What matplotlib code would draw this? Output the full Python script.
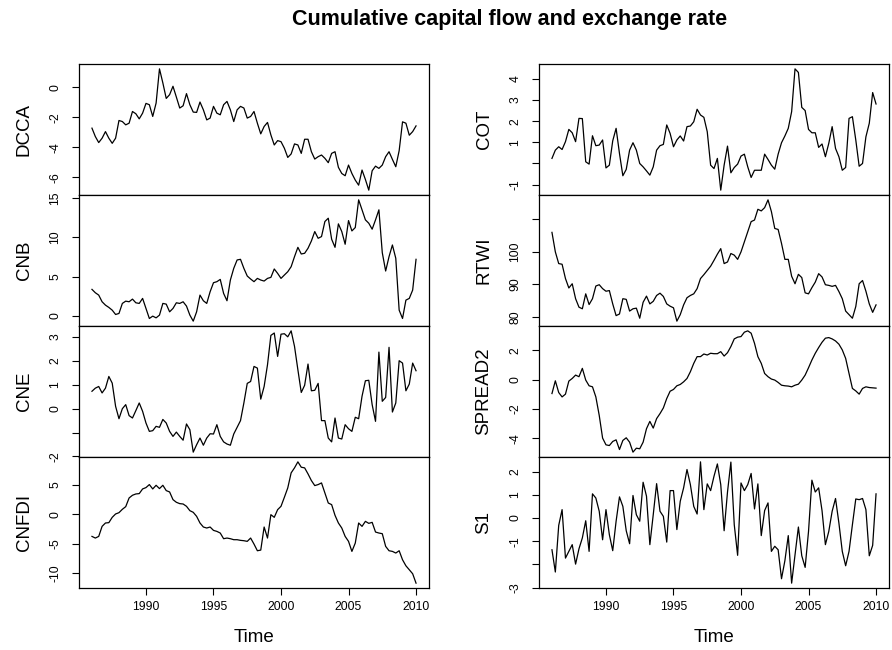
import matplotlib.pyplot as plt
import numpy as np

plt.rcParams['font.family'] = ['Liberation Sans', 'DejaVu Sans']

# quarterly series, 1986 Q1 .. 2010 Q1
start_year = 1986.0
freq = 4

dcca = [-2.72, -3.28, -3.68, -3.39, -2.95, -3.39, -3.73, -3.39, -2.21, -2.28,
        -2.50, -2.39, -1.61, -1.76, -2.10, -1.72, -1.07, -1.16, -1.94, -1.05,
        1.23, 0.29, -0.74, -0.49, 0.07, -0.65, -1.38, -1.23, -0.42, -1.16,
        -1.65, -1.67, -0.98, -1.50, -2.17, -2.05, -1.27, -1.72, -1.83, -1.16,
        -0.94, -1.50, -2.28, -1.50, -1.27, -1.38, -2.05, -1.94, -1.61, -2.39,
        -3.10, -2.61, -2.34, -3.17, -3.84, -3.55, -3.62, -4.06, -4.67, -4.44,
        -3.77, -3.84, -4.40, -3.46, -3.46, -4.29, -4.78, -4.62, -4.51, -4.73,
        -5.02, -4.40, -4.29, -5.33, -5.74, -5.89, -5.18, -5.74, -6.18, -6.52,
        -5.51, -6.14, -6.85, -5.56, -5.25, -5.40, -5.18, -4.62, -4.29, -4.80,
        -5.29, -4.22, -2.30, -2.39, -3.19, -2.95, -2.57]

cnb = [3.37, 2.94, 2.64, 1.79, 1.36, 1.07, 0.72, 0.17, 0.30, 1.58,
       1.87, 1.79, 2.13, 1.66, 1.58, 2.22, 0.94, -0.34, -0.04, -0.26,
       0.09, 1.58, 1.49, 0.51, 0.94, 1.66, 1.58, 1.79, 1.24, 0.09,
       -0.68, 0.51, 2.64, 1.92, 1.58, 3.07, 4.22, 4.35, 4.64, 2.85,
       1.92, 4.56, 6.05, 7.12, 7.20, 6.05, 5.07, 4.69, 4.35, 4.77,
       4.56, 4.43, 4.77, 4.90, 5.97, 5.41, 4.77, 5.20, 5.62, 6.26,
       7.54, 8.73, 7.88, 7.97, 8.61, 9.54, 10.74, 9.88, 10.10, 12.02,
       12.44, 9.76, 8.73, 11.72, 10.74, 9.12, 12.14, 10.82, 11.25, 14.78,
       13.51, 12.23, 11.80, 11.04, 12.23, 13.51, 8.05, 5.71, 7.54, 9.03,
       7.33, 0.72, -0.34, 2.00, 2.22, 3.28, 7.20]

cne = [0.73, 0.86, 0.93, 0.66, 0.86, 1.35, 1.07, 0.10, -0.42, 0.00,
       0.17, -0.29, -0.39, -0.08, 0.24, -0.11, -0.60, -0.95, -0.92, -0.74,
       -0.78, -0.45, -0.60, -0.95, -1.16, -0.98, -1.16, -1.32, -0.64, -0.88,
       -1.82, -1.51, -1.23, -1.53, -1.23, -1.05, -1.06, -0.67, -1.16, -1.39,
       -1.48, -1.53, -1.06, -0.78, -0.50, 0.24, 1.06, 1.14, 1.77, 1.70,
       0.40, 0.93, 1.84, 3.07, 3.17, 2.19, 3.12, 3.14, 3.01, 3.26,
       2.61, 1.63, 0.68, 0.98, 1.87, 0.75, 0.77, 1.06, -0.50, -0.50,
       -1.23, -1.39, -0.39, -1.23, -1.27, -0.67, -0.84, -0.95, -0.36, -0.42,
       0.52, 1.17, 1.19, 0.17, -0.53, 2.37, 0.31, 0.47, 2.57, -0.14,
       0.24, 2.01, 1.91, 0.75, 1.03, 1.91, 1.59]

cnfdi = [-3.74, -4.02, -3.74, -2.04, -1.47, -1.41, -0.51, 0.06, 0.28, 0.85,
         1.30, 2.77, 3.23, 3.45, 3.51, 4.30, 4.53, 5.04, 4.30, 4.92,
         4.36, 4.92, 4.02, 3.79, 2.49, 2.04, 1.81, 1.75, 1.36, 0.62,
         0.34, -0.34, -1.47, -2.15, -2.32, -2.15, -2.72, -2.89, -3.17, -4.13,
         -4.02, -4.13, -4.30, -4.30, -4.41, -4.47, -4.58, -4.02, -5.04, -6.17,
         -6.06, -2.15, -4.02, -0.06, -0.51, 0.79, 1.36, 2.89, 4.47, 7.02,
         7.87, 8.89, 7.98, 7.87, 6.85, 5.72, 4.87, 5.04, 5.32, 3.62,
         1.92, 1.64, -0.17, -1.47, -2.32, -3.74, -4.58, -6.28, -4.87, -1.47,
         -2.04, -1.19, -1.53, -1.36, -3.00, -3.17, -3.28, -5.43, -6.17, -6.28,
         -6.56, -6.17, -7.70, -8.72, -9.39, -10.07, -11.66]

cot = [0.24, 0.63, 0.79, 0.66, 1.03, 1.61, 1.45, 1.03, 2.13, 2.12,
       0.08, -0.03, 1.31, 0.84, 0.87, 1.11, -0.21, -0.08, 1.07, 1.66,
       0.47, -0.58, -0.28, 0.63, 0.98, 0.63, 0.00, -0.16, -0.35, -0.55,
       -0.16, 0.63, 0.84, 0.90, 1.82, 1.42, 0.79, 1.11, 1.30, 1.06,
       1.74, 1.77, 1.97, 2.56, 2.29, 2.18, 1.50, -0.08, -0.24, 0.24,
       -1.26, -0.08, 0.82, -0.44, -0.19, -0.03, 0.35, 0.44, -0.16, -0.66,
       -0.32, -0.32, -0.32, 0.44, 0.19, -0.08, -0.27, 0.44, 0.98, 1.30,
       1.66, 2.45, 4.47, 4.30, 2.65, 2.50, 1.61, 1.45, 1.45, 0.76,
       0.92, 0.32, 0.95, 1.74, 0.71, 0.32, -0.32, -0.19, 2.13, 2.21,
       1.11, -0.13, 0.00, 1.26, 1.90, 3.35, 2.81]

rtwi = [106.0, 100.0, 96.4, 96.2, 91.8, 88.9, 90.2, 85.6, 83.0, 82.5,
        87.1, 83.8, 85.6, 89.5, 89.9, 88.7, 87.9, 88.1, 84.0, 80.4,
        80.9, 85.6, 85.4, 81.8, 82.5, 82.7, 79.6, 84.5, 86.4, 84.0,
        84.8, 86.6, 87.3, 86.3, 84.0, 83.3, 82.8, 78.7, 80.7, 83.7,
        85.9, 86.6, 87.1, 88.7, 91.8, 93.0, 94.3, 95.6, 97.4, 99.3,
        101.0, 96.4, 96.9, 99.5, 99.0, 97.7, 100.0, 103.1, 106.2, 109.3,
        109.8, 113.1, 112.6, 113.6, 116.0, 112.4, 107.2, 106.9, 102.6, 97.7,
        97.7, 92.5, 90.2, 93.1, 92.1, 87.4, 87.1, 89.0, 90.7, 93.3,
        92.3, 89.9, 89.7, 89.4, 89.7, 87.8, 85.6, 81.8, 80.7, 79.6,
        83.2, 90.2, 91.2, 87.9, 84.0, 81.4, 83.7]

spread2 = [-0.94, -0.07, -0.87, -1.17, -0.98, -0.09, 0.09, 0.32, 0.21, 0.78,
           -0.02, -0.41, -0.48, -1.17, -2.43, -3.98, -4.44, -4.49, -4.21, -4.10,
           -4.76, -4.14, -3.96, -4.26, -4.94, -4.67, -4.71, -4.26, -3.34, -2.84,
           -3.30, -2.65, -2.31, -1.92, -1.28, -0.78, -0.66, -0.41, -0.32, -0.14,
           0.09, 0.55, 1.12, 1.58, 1.58, 1.76, 1.69, 1.81, 1.78, 1.78,
           1.92, 1.62, 1.85, 2.27, 2.79, 2.91, 2.95, 3.25, 3.34, 3.18,
           2.49, 1.58, 1.12, 0.43, 0.21, 0.05, -0.02, -0.18, -0.37, -0.41,
           -0.43, -0.48, -0.37, -0.30, -0.02, 0.32, 0.82, 1.35, 1.81, 2.20,
           2.56, 2.84, 2.88, 2.79, 2.65, 2.43, 2.04, 1.46, 0.43, -0.59,
           -0.76, -0.98, -0.59, -0.48, -0.53, -0.55, -0.57]

s1 = [-1.37, -2.33, -0.32, 0.36, -1.73, -1.44, -1.15, -1.99, -1.33, -0.86,
      -0.12, -1.44, 1.04, 0.86, 0.29, -0.94, 0.36, -0.72, -1.41, -0.14,
      0.91, 0.50, -0.55, -1.11, 0.97, 0.14, -0.14, 1.54, 0.94, -1.15,
      0.14, 1.48, 0.29, 0.07, -1.04, 1.18, 1.18, -0.50, 0.72, 1.30,
      2.09, 1.44, 0.50, 0.17, 2.42, 0.36, 1.47, 1.18, 1.80, 2.33,
      1.44, -0.55, 1.12, 2.41, -0.29, -1.61, 1.51, 1.18, 1.44, 1.92,
      0.39, 1.47, -0.76, 0.32, 0.65, -1.44, -1.22, -1.37, -2.62, -1.84,
      -0.76, -2.81, -1.59, -0.39, -1.63, -2.13, -0.58, 1.63, 1.12, 1.30,
      0.32, -1.15, -0.58, 0.29, 0.84, -0.22, -1.44, -2.06, -1.44, -0.29,
      0.82, 0.79, 0.84, 0.36, -1.63, -1.18, 1.04]

# y-axis ticks and their labels (some ticks carry no label)
dcca_ticks, dcca_labels = [-6, -4, -2, 0], ['-6', '-4', '-2', '0']
cnb_ticks, cnb_labels = [0, 5, 10, 15], ['0', '5', '10', '15']
cne_ticks, cne_labels = [-2, -1, 0, 1, 2, 3], ['-2', '', '0', '1', '2', '3']
cnfdi_ticks, cnfdi_labels = [-10, -5, 0, 5], ['-10', '-5', '0', '5']
cot_ticks, cot_labels = [-1, 0, 1, 2, 3, 4], ['-1', '', '1', '2', '3', '4']
rtwi_ticks, rtwi_labels = [80, 90, 100, 110], ['80', '90', '100', '']
spread2_ticks, spread2_labels = [-4, -2, 0, 2], ['-4', '-2', '0', '2']
s1_ticks, s1_labels = [-3, -2, -1, 0, 1, 2], ['-3', '', '-1', '0', '1', '2']

year_ticks = [1990, 1995, 2000, 2005, 2010]

left_col = [('DCCA', dcca, dcca_ticks, dcca_labels),
            ('CNB', cnb, cnb_ticks, cnb_labels),
            ('CNE', cne, cne_ticks, cne_labels),
            ('CNFDI', cnfdi, cnfdi_ticks, cnfdi_labels)]
right_col = [('COT', cot, cot_ticks, cot_labels),
             ('RTWI', rtwi, rtwi_ticks, rtwi_labels),
             ('SPREAD2', spread2, spread2_ticks, spread2_labels),
             ('S1', s1, s1_ticks, s1_labels)]

W, H = 892, 650
fig = plt.figure(figsize=(W / 100, H / 100), dpi=100)


def draw_panel(rect, name, values, ticks, labels, bottom):
    ax = fig.add_axes(rect)
    t = start_year + np.arange(len(values)) / freq
    ax.plot(t, values, color='black', lw=0.9)
    # pad both ranges by 4%, like R's default axis style
    lo, hi = min(values), max(values)
    ax.set_ylim(lo - 0.04 * (hi - lo), hi + 0.04 * (hi - lo))
    span = t[-1] - t[0]
    ax.set_xlim(t[0] - 0.04 * span, t[-1] + 0.04 * span)
    ax.set_yticks(ticks)
    ax.set_yticklabels(labels)
    ax.tick_params(axis='y', length=5, width=0.8, labelsize=8.7,
                   labelrotation=90, pad=12)
    for lbl in ax.get_yticklabels():
        lbl.set_horizontalalignment('center')
        lbl.set_verticalalignment('center')
    if bottom:
        ax.set_xticks(year_ticks)
        ax.set_xticklabels([str(y) for y in year_ticks])
        ax.tick_params(axis='x', length=5, width=0.8, labelsize=8.7, pad=4)
    else:
        ax.set_xticks([])
    for sp in ax.spines.values():
        sp.set_linewidth(0.9)
    ax.text(-0.157, 0.5, name, transform=ax.transAxes, rotation=90,
            ha='center', va='center', fontsize=13.5)
    return ax


panel_h = 131
panel_w = 350
top = 64
for col_x, series in [(79, left_col), (539, right_col)]:
    for i, (name, vals, ticks, labels) in enumerate(series):
        y_top = top + i * panel_h
        rect = [col_x / W, 1 - (y_top + panel_h) / H, panel_w / W, panel_h / H]
        draw_panel(rect, name, vals, ticks, labels, bottom=(i == 3))
    fig.text((col_x + panel_w / 2) / W, 1 - 637 / H, 'Time',
             ha='center', va='center', fontsize=13.5)

fig.text(510 / W, 1 - 20 / H, 'Cumulative capital flow and exchange rate',
         ha='center', va='center', fontsize=15.5, fontweight='bold')

fig.savefig('out.png', dpi=100)
